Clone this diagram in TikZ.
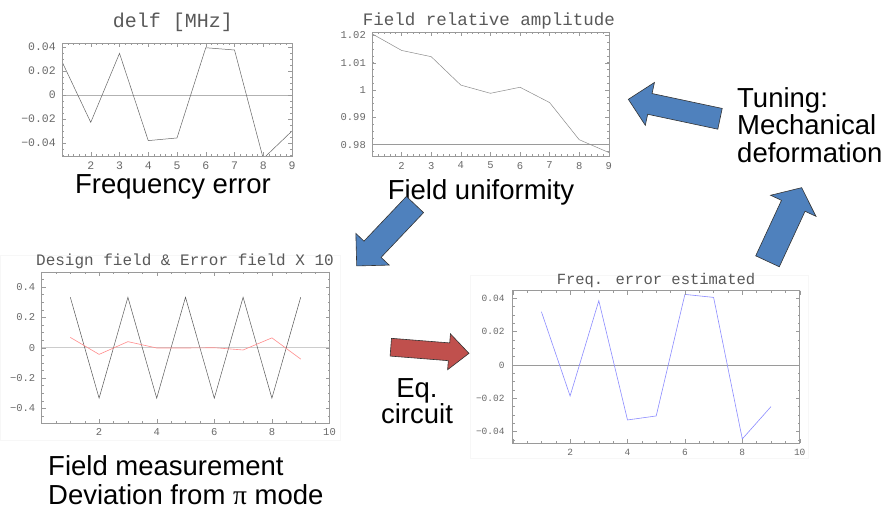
\documentclass[tikz,border=0pt]{standalone}
\usepackage{fontspec}
\setmainfont{Liberation Sans}
\newfontfamily\plotfont{Liberation Mono}
\newfontfamily\pifont{Liberation Serif}
\usepackage{xcolor}
\usepackage{tikz}

\definecolor{arrowblue}{HTML}{4F81BD}
\definecolor{arrowred}{HTML}{C0504D}
\definecolor{framegray}{HTML}{9A9A9A}
\definecolor{labelgray}{HTML}{6A6A6A}

% block arrow: style, tail, angle, length, shaft half width, head half width, head length
\newcommand{\blockarrow}[7]{%
  \draw[#1,shift={(#2)},rotate=#3] (0,#5) -- ({#4-#7},#5) -- ({#4-#7},#6) -- (#4,0)
    -- ({#4-#7},-#6) -- ({#4-#7},-#5) -- (0,-#5) -- cycle;}

\begin{document}
\begin{tikzpicture}[x=1pt,y=-1pt,
  plotframe/.style={draw=framegray,line width=0.5pt},
  plottick/.style={framegray,line width=0.4pt},
  ticklbl/.style={labelgray,inner sep=0pt,font=\plotfont\fontsize{#1}{#1}\selectfont},
  plottitle/.style={black!65,inner sep=0pt,font=\plotfont\fontsize{#1}{#1}\selectfont},
  biglabel/.style={inner sep=0pt,font=\fontsize{27.5}{#1}\selectfont},
  biglabel/.default=28,
  bluearrow/.style={fill=arrowblue,draw=black!80,line width=0.6pt},
  redarrow/.style={fill=arrowred,draw=black!80,line width=0.6pt}]
  \useasboundingbox (0,0) rectangle (891,509);
  \fill[white] (0,0) rectangle (891,509);
  % faint image borders
  \draw[gray!6] (0,255) rectangle (340,440);
  \draw[gray!6] (470,275) rectangle (808,458);

  % frequency error
  \node[plottitle=20] (t1) at (173,22) {delf [MHz]};
  \begin{scope}[shift={(33.25,95)},x=28.75pt,y=1200pt]
    \draw[gray!60,line width=0.6pt] (1,0) -- (9,0);
    \begin{scope}
      \clip (1,-0.0508) rectangle (9,0.0433);
      \draw[black!60,line width=0.5pt] plot coordinates {(1,0.0278) (2,-0.0228) (3,0.0347)
        (4,-0.038) (5,-0.0358) (6,0.0394) (7,0.0375) (8,-0.053) (9,-0.030)};
    \end{scope}
    \foreach \t in {5,...,45}
      \draw[plottick] (\t/5,-0.0508) -- ++(0,2pt) (\t/5,0.0433) -- ++(0,-2pt);
    \foreach \t in {1,...,9}
      \draw[plottick] (\t,-0.0508) -- ++(0,4pt) (\t,0.0433) -- ++(0,-4pt);
    \foreach \t in {-10,...,8}
      \draw[plottick] (1,\t*0.005) -- ++(2pt,0) (9,\t*0.005) -- ++(-2pt,0);
    \foreach \t in {-2,...,2}
      \draw[plottick] (1,\t*0.02) -- ++(4pt,0) (9,\t*0.02) -- ++(-4pt,0);
    \draw[plotframe] (1,-0.0508) rectangle (9,0.0433);
    \foreach \v/\l [count=\n] in {0.04/0.04,0.02/0.02,0/0,-0.02/−0.02,-0.04/−0.04}
      \node[ticklbl=11.5,left=6pt] (y1\n) at (1,\v) {\l};
    \foreach \t in {2,...,9}
      \node[ticklbl=11.5,below=6pt] (x1\t) at (\t,-0.0508) {\t};
  \end{scope}

  % field relative amplitude
  \node[plottitle=17.5] (t2) at (489,21) {Field relative amplitude};
  \begin{scope}[shift={(342.4,2820)},x=29.6pt,y=2730pt]
    \draw[framegray,line width=0.6pt] (1,0.98) -- (9,0.98);
    \draw[black!45,line width=0.5pt] plot coordinates {(1,1.0206) (2,1.0145) (3,1.0122)
      (4,1.0018) (5,0.9988) (6,1.001) (7,0.9954) (8,0.9818) (9,0.9771)};
    \foreach \t in {5,...,45}
      \draw[plottick] (\t/5,0.9759) -- ++(0,2pt) (\t/5,1.0211) -- ++(0,-2pt);
    \foreach \t in {1,...,9}
      \draw[plottick] (\t,0.9759) -- ++(0,4pt) (\t,1.0211) -- ++(0,-4pt);
    \foreach \t in {-9,...,8}
      \draw[plottick] (1,1+\t*0.0025) -- ++(2pt,0) (9,1+\t*0.0025) -- ++(-2pt,0);
    \foreach \t in {-2,...,2}
      \draw[plottick] (1,1+\t*0.01) -- ++(4pt,0) (9,1+\t*0.01) -- ++(-4pt,0);
    \draw[plotframe] (1,0.9759) rectangle (9,1.0211);
    \foreach \v/\l [count=\n] in {1.02/1.02,1.01/1.01,1/1,0.99/0.99,0.98/0.98}
      \node[ticklbl=10.5,left=6pt] (y2\n) at (1,\v) {\l};
    \foreach \t in {2,...,9}
      \node[ticklbl=10.5,below=6pt] (x2\t) at (\t,0.9759) {\t};
  \end{scope}

  % design field and error field
  \node[plottitle=16] (t3) at (185,261) {Design field \& Error field X 10};
  \begin{scope}[shift={(41.5,347.7)},x=28.8pt,y=151.5pt]
    \draw[gray!40,line width=1.2pt] (0,0) -- (10,0);
    \draw[black!65,line width=0.5pt] plot coordinates {(1,0.333) (2,-0.333) (3,0.333)
      (4,-0.333) (5,0.333) (6,-0.333) (7,0.333) (8,-0.333) (9,0.333)};
    \draw[red!45,line width=0.6pt] plot coordinates {(1,0.068) (2,-0.044) (3,0.04)
      (4,-0.002) (5,-0.002) (6,0.0) (7,-0.015) (8,0.065) (9,-0.075)};
    \foreach \t in {0,...,20}
      \draw[plottick] (\t/2,-0.5) -- ++(0,2pt) (\t/2,0.5) -- ++(0,-2pt);
    \foreach \t in {0,2,...,10}
      \draw[plottick] (\t,-0.5) -- ++(0,4pt) (\t,0.5) -- ++(0,-4pt);
    \foreach \t in {-10,...,10}
      \draw[plottick] (0,\t*0.05) -- ++(2pt,0) (10,\t*0.05) -- ++(-2pt,0);
    \foreach \t in {-4,-2,...,4}
      \draw[plottick] (0,\t*0.1) -- ++(4pt,0) (10,\t*0.1) -- ++(-4pt,0);
    \draw[plotframe] (0,-0.5) rectangle (10,0.5);
    \foreach \v/\l [count=\n] in {0.4/0.4,0.2/0.2,0/0,-0.2/−0.2,-0.4/−0.4}
      \node[ticklbl=10.5,left=6pt] (y3\n) at (0,\v) {\l};
    \foreach \t in {2,4,...,10}
      \node[ticklbl=10.5,below=5pt] (x3\t) at (\t,-0.5) {\t};
  \end{scope}

  % frequency error estimated
  \node[plottitle=15.5] (t4) at (656,280) {Freq. error estimated};
  \begin{scope}[shift={(512.7,365)},x=28.7pt,y=1665pt]
    \draw[framegray,line width=0.6pt] (0,0) -- (10,0);
    \draw[blue!45,line width=0.6pt] plot coordinates {(1,0.032) (2,-0.0186) (3,0.0386)
      (4,-0.033) (5,-0.0306) (6,0.0424) (7,0.0406) (8,-0.0444) (9,-0.025)};
    \foreach \t in {0,...,20}
      \draw[plottick] (\t/2,-0.0467) -- ++(0,2pt) (\t/2,0.0446) -- ++(0,-2pt);
    \foreach \t in {0,2,...,10}
      \draw[plottick] (\t,-0.0467) -- ++(0,4pt) (\t,0.0446) -- ++(0,-4pt);
    \foreach \t in {-9,...,8}
      \draw[plottick] (0,\t*0.005) -- ++(2pt,0) (10,\t*0.005) -- ++(-2pt,0);
    \foreach \t in {-2,...,2}
      \draw[plottick] (0,\t*0.02) -- ++(4pt,0) (10,\t*0.02) -- ++(-4pt,0);
    \draw[plotframe] (0,-0.0467) rectangle (10,0.0446);
    \foreach \v/\l [count=\n] in {0.04/0.04,0.02/0.02,0/0,-0.02/−0.02,-0.04/−0.04}
      \node[ticklbl=9.5,left=8pt] (y4\n) at (0,\v) {\l};
    \foreach \t in {2,4,...,10}
      \node[ticklbl=9.5,below=6pt] (x4\t) at (\t,-0.0467) {\t};
  \end{scope}

  % captions
  \node[biglabel] (freqerr) at (173,187) {Frequency error};
  \node[biglabel] (fielduni) at (481,192) {Field uniformity};
  \node[biglabel=29,align=left,anchor=west] (fieldmeas) at (48,480)
    {Field measurement\\Deviation from {\pifont π} mode};
  \node[biglabel=27.5,align=left,anchor=west] (tuning) at (737,125)
    {Tuning:\\Mechanical\\deformation};
  \node[biglabel=26,align=center] (eqcirc) at (417,401) {Eq.\\circuit};

  % arrows
  \blockarrow{bluearrow}{720,118.8}{168}{93.7}{10.6}{21.9}{22}
  \blockarrow{bluearrow}{767.5,261.3}{65.1}{81.2}{13}{25}{20}
  \blockarrow{bluearrow}{415,204.5}{226.5}{84.7}{11.8}{23}{23}
  \blockarrow{redarrow}{390.8,347.2}{-4.5}{78.4}{8.9}{18}{20}
\end{tikzpicture}
\end{document}
